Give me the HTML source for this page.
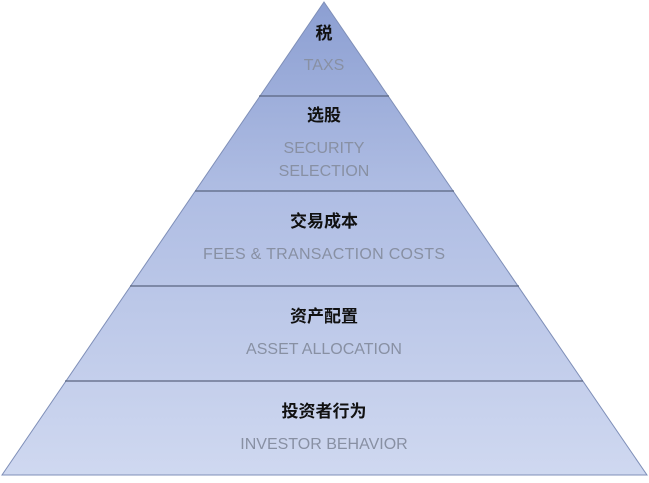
<!DOCTYPE html>
<html><head><meta charset="utf-8"><style>body{margin:0;background:#fff}</style></head><body>
<svg width="649" height="478" xmlns="http://www.w3.org/2000/svg">
<defs>
<linearGradient id="g" x1="0" y1="0" x2="0" y2="1">
<stop offset="0" stop-color="#8c9fd2"/><stop offset="0.4" stop-color="#afbde3"/><stop offset="1" stop-color="#cfd8f0"/>
</linearGradient>
</defs>
<polygon points="324,2 647,475 2,475" fill="url(#g)" stroke="#7f8fb8" stroke-width="1"/>
<g stroke="#5a6580" stroke-width="1.2">
<line x1="259" y1="96" x2="389" y2="96"/>
<line x1="195" y1="191" x2="454" y2="191"/>
<line x1="130" y1="286" x2="519" y2="286"/>
<line x1="65" y1="381" x2="583" y2="381"/>
</g>
<g font-family="'Liberation Sans','Noto Sans CJK SC',sans-serif" text-anchor="middle">
<g font-size="17" font-weight="bold" fill="#111">
<text x="324" y="39">税</text>
<text x="324" y="121">选股</text>
<text x="324" y="227">交易成本</text>
<text x="324" y="322">资产配置</text>
<text x="324" y="417">投资者行为</text>
</g>
<g font-size="16" fill="#8890a3">
<text x="324" y="70">TAXS</text>
<text x="324" y="153">SECURITY</text>
<text x="324" y="176">SELECTION</text>
<text x="324" y="259" textLength="242">FEES &amp; TRANSACTION COSTS</text>
<text x="324" y="354">ASSET ALLOCATION</text>
<text x="324" y="449">INVESTOR BEHAVIOR</text>
</g>
</g>
</svg>
</body></html>
